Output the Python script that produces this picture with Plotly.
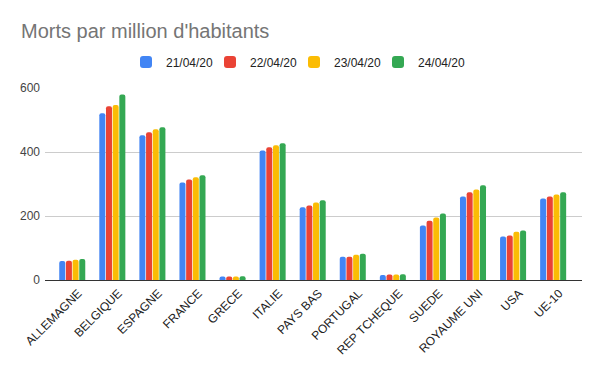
import plotly.graph_objects as go

categories = ["ALLEMAGNE", "BELGIQUE", "ESPAGNE", "FRANCE", "GRECE", "ITALIE",
              "PAYS BAS", "PORTUGAL", "REP TCHEQUE", "SUEDE", "ROYAUME UNI", "USA", "UE-10"]
dates = ["21/04/20", "22/04/20", "23/04/20", "24/04/20"]
v_21 = [59, 521, 452, 305, 11, 405, 227, 73, 16, 170, 261, 136, 255]
v_22 = [60, 543, 462, 314, 11, 415, 233, 73, 17, 185, 274, 139, 261]
v_23 = [63, 547, 471, 321, 11, 421, 242, 79, 17, 195, 283, 151, 267]
v_24 = [66, 580, 477, 327, 12, 427, 249, 82, 18, 208, 296, 155, 274]
series = [v_21, v_22, v_23, v_24]
colors = ["#4285F4", "#EA4335", "#FBBC04", "#34A853"]
y_ticks = [0, 200, 400, 600]

# The page body has an 8px default margin, so the figure is sized to fit the window.
W, H = 592, 363

fig = go.Figure()
for i, (name, vals, col) in enumerate(zip(dates, series, colors)):
    fig.add_trace(go.Bar(x=categories, y=vals, name=name,
                         legendwidth=60 if i == len(dates) - 1 else None,
                         marker=dict(color=col, line=dict(width=0), cornerradius=2)))

font_family = "Liberation Sans, Arial, sans-serif"
fig.update_layout(
    width=W, height=H,
    margin=dict(l=37, r=18, t=80, b=91, autoexpand=False),
    paper_bgcolor="white", plot_bgcolor="white",
    font=dict(family=font_family, size=12, color="#222222"),
    barmode="group", bargap=0.334, bargroupgap=0.1,
    title=dict(text="Morts par million d'habitants", x=13/W, xanchor="left", xref="container",
               y=1 - 23/H, yanchor="middle", yref="container",
               font=dict(size=20, color="#757575", family=font_family)),
    showlegend=True,
    legend=dict(orientation="h", x=118/W, xanchor="left", xref="container",
                y=1 - 54/H, yanchor="middle", yref="container",
                font=dict(size=12, color="#222222"), entrywidth=39,
                bgcolor="rgba(0,0,0,0)"),
    xaxis=dict(type="category", range=[-0.68, 12.72], tickangle=-45, showgrid=False,
               showline=False, ticks="", automargin=False,
               ticklabelshift=6, ticklabelstandoff=3,
               tickfont=dict(size=12, color="#222222")),
    yaxis=dict(range=[0, 600], tickvals=y_ticks, showgrid=True, gridcolor="#CCCCCC",
               zeroline=True, zerolinecolor="#333333", zerolinewidth=1, automargin=False,
               tickfont=dict(size=12, color="#444444"), ticks="", ticklabelstandoff=4),
)
fig.write_html("out.html")
